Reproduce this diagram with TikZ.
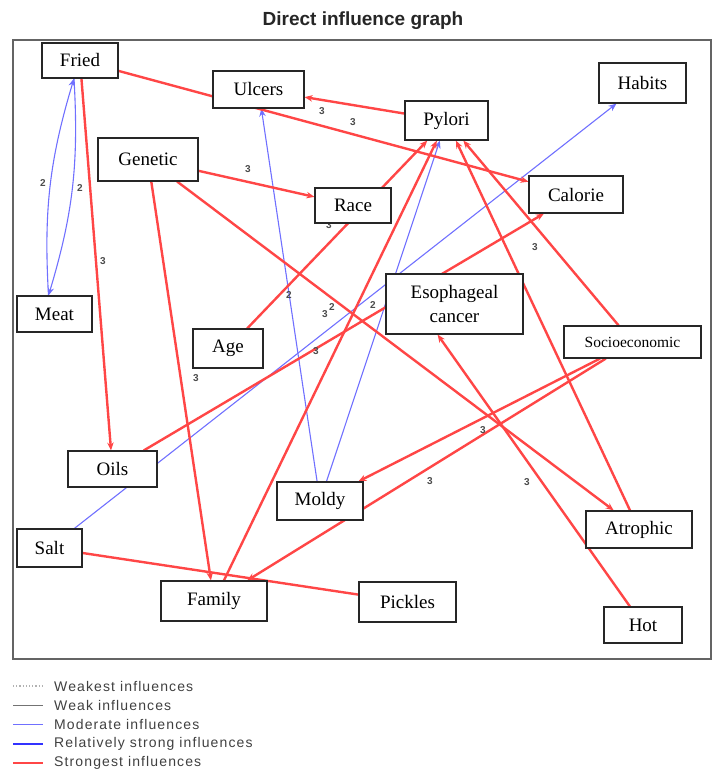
\documentclass[tikz,border=0pt]{standalone}
\usepackage{fontspec}
\setmainfont{Liberation Serif}
\setsansfont{Liberation Sans}
\usetikzlibrary{arrows.meta,backgrounds}
\definecolor{infred}{RGB}{255,70,70}
\definecolor{infblue}{RGB}{112,112,255}
\definecolor{strongblue}{RGB}{50,50,255}
\definecolor{framegray}{RGB}{100,100,100}

\begin{document}
\begin{tikzpicture}[x=1pt, y=-1pt,
		factor/.style={shape=rectangle, draw=black!85, fill=white, line width=1.1pt, align=center, inner sep=0pt, font=\fontsize{19}{24}\selectfont},
		strongline/.style={draw=infred, line width=2.4pt},
		modline/.style={draw=infblue, line width=1.1pt},
		weakline/.style={draw=black!55, line width=1.3pt},
		weakestline/.style={draw=black!30, dotted, line width=1.2pt},
		relline/.style={draw=strongblue, line width=2.4pt},
		infarrow/.style={-{Stealth[length=8pt,width=6.5pt]}},
		weight/.style={font=\sffamily\bfseries\fontsize{10}{10}\selectfont, text=black!70, inner sep=0pt},
		legendtext/.style={font=\sffamily\fontsize{14}{14}\selectfont\addfontfeature{LetterSpace=8}, text=black!75, anchor=west, inner sep=0pt}
		]
		\useasboundingbox (0,0) rectangle (715,771);
		\node[font=\sffamily\bfseries\fontsize{19}{19}\selectfont, text=black!85] (title) at (363,21) {Direct influence graph};
		\draw[framegray, line width=1.6pt] (13,40) rectangle (711,659);
		% factors
		\node[factor, minimum width=76pt, minimum height=35pt] (fried) at (80,60.5) {Fried};
		\node[factor, minimum width=91pt, minimum height=37pt] (ulcers) at (258.5,89.5) {Ulcers};
		\node[factor, minimum width=100pt, minimum height=43pt] (genetic) at (148,159.5) {Genetic};
		\node[factor, minimum width=75pt, minimum height=36pt] (meat) at (54.5,314) {Meat};
		\node[factor, minimum width=76pt, minimum height=35pt] (race) at (353,205.5) {Race};
		\node[factor, minimum width=70pt, minimum height=39pt] (age) at (228,348.5) {Age};
		\node[factor, minimum width=83pt, minimum height=39pt] (pylori) at (446.5,120.5) {Pylori};
		\node[factor, minimum width=87pt, minimum height=40pt] (habits) at (642.5,83) {Habits};
		\node[factor, minimum width=94pt, minimum height=37pt] (calorie) at (576,194.5) {Calorie};
		\node[factor, minimum width=137pt, minimum height=60pt] (esoph) at (454.5,304) {Esophageal\\cancer};
		\node[factor, minimum width=137pt, minimum height=32pt, font=\fontsize{15.5}{18}\selectfont] (socio) at (632.5,342) {Socioeconomic};
		\node[factor, minimum width=89pt, minimum height=36pt] (oils) at (112.5,469) {Oils};
		\node[factor, minimum width=86pt, minimum height=38pt] (moldy) at (320,501) {Moldy};
		\node[factor, minimum width=65pt, minimum height=38pt] (salt) at (49.5,548) {Salt};
		\node[factor, minimum width=106pt, minimum height=40pt] (family) at (214,601) {Family};
		\node[factor, minimum width=97pt, minimum height=40pt] (pickles) at (407.5,602) {Pickles};
		\node[factor, minimum width=106pt, minimum height=37pt] (atrophic) at (639,529.5) {Atrophic};
		\node[factor, minimum width=78pt, minimum height=36pt] (hot) at (643,625) {Hot};
		% influences
		\begin{scope}[on background layer]
			\draw[modline, infarrow] ([xshift=-6pt]meat.north) to[bend left=10] ([xshift=-6pt]fried.south);
			\draw[modline, infarrow] ([xshift=-6pt]fried.south) to[bend left=10] ([xshift=-6pt]meat.north);
			\draw[modline, infarrow] (moldy) -- (ulcers);
			\draw[modline, infarrow] (moldy) -- (pylori);
			\draw[modline, infarrow] (salt) -- (habits);
			\draw[strongline, infarrow] (fried) -- (oils);
			\draw[strongline, infarrow] (fried) -- (calorie);
			\draw[strongline, infarrow] (pylori) -- (ulcers);
			\draw[strongline, infarrow] (genetic) -- (race);
			\draw[strongline, infarrow] (genetic) -- (family);
			\draw[strongline, infarrow] (genetic) -- (atrophic);
			\draw[strongline, infarrow] (age) -- (pylori);
			\draw[strongline, infarrow] (oils) -- (calorie);
			\draw[strongline, infarrow] (family) -- (pylori);
			\draw[strongline, infarrow] (atrophic) -- (pylori);
			\draw[strongline, infarrow] (socio) -- (pylori);
			\draw[strongline, infarrow] (socio) -- (moldy);
			\draw[strongline, infarrow] (socio) -- (family);
			\draw[strongline, infarrow] (hot) -- (esoph.241);
			\draw[strongline] (salt) -- (pickles);
			% weights
			\node[weight] (w1) at (43,183) {2};
			\node[weight] (w2) at (80,188) {2};
			\node[weight] (w3) at (103,261) {3};
			\node[weight] (w4) at (322,111) {3};
			\node[weight] (w5) at (353,122) {3};
			\node[weight] (w6) at (248,169) {3};
			\node[weight] (w7) at (329,225) {3};
			\node[weight] (w8) at (289,295) {2};
			\node[weight] (w9) at (325,314) {3};
			\node[weight] (w10) at (332,307) {2};
			\node[weight] (w11) at (373,305) {2};
			\node[weight] (w12) at (316,351) {3};
			\node[weight] (w13) at (196,378) {3};
			\node[weight] (w14) at (535,247) {3};
			\node[weight] (w15) at (483,430) {3};
			\node[weight] (w16) at (430,481) {3};
			\node[weight] (w17) at (527,482) {3};
		\end{scope}
		% legend
		\foreach \k/\sty/\txt in {0/weakestline/Weakest influences, 1/weakline/Weak influences, 2/modline/Moderate influences, 3/relline/Relatively strong influences, 4/strongline/Strongest influences}{
			\draw[\sty] (13,{686+19.25*\k}) -- (43,{686+19.25*\k});
			\node[legendtext] (leg\k) at (54,{686+19.25*\k}) {\txt};
		}
	\end{tikzpicture}
\end{document}
